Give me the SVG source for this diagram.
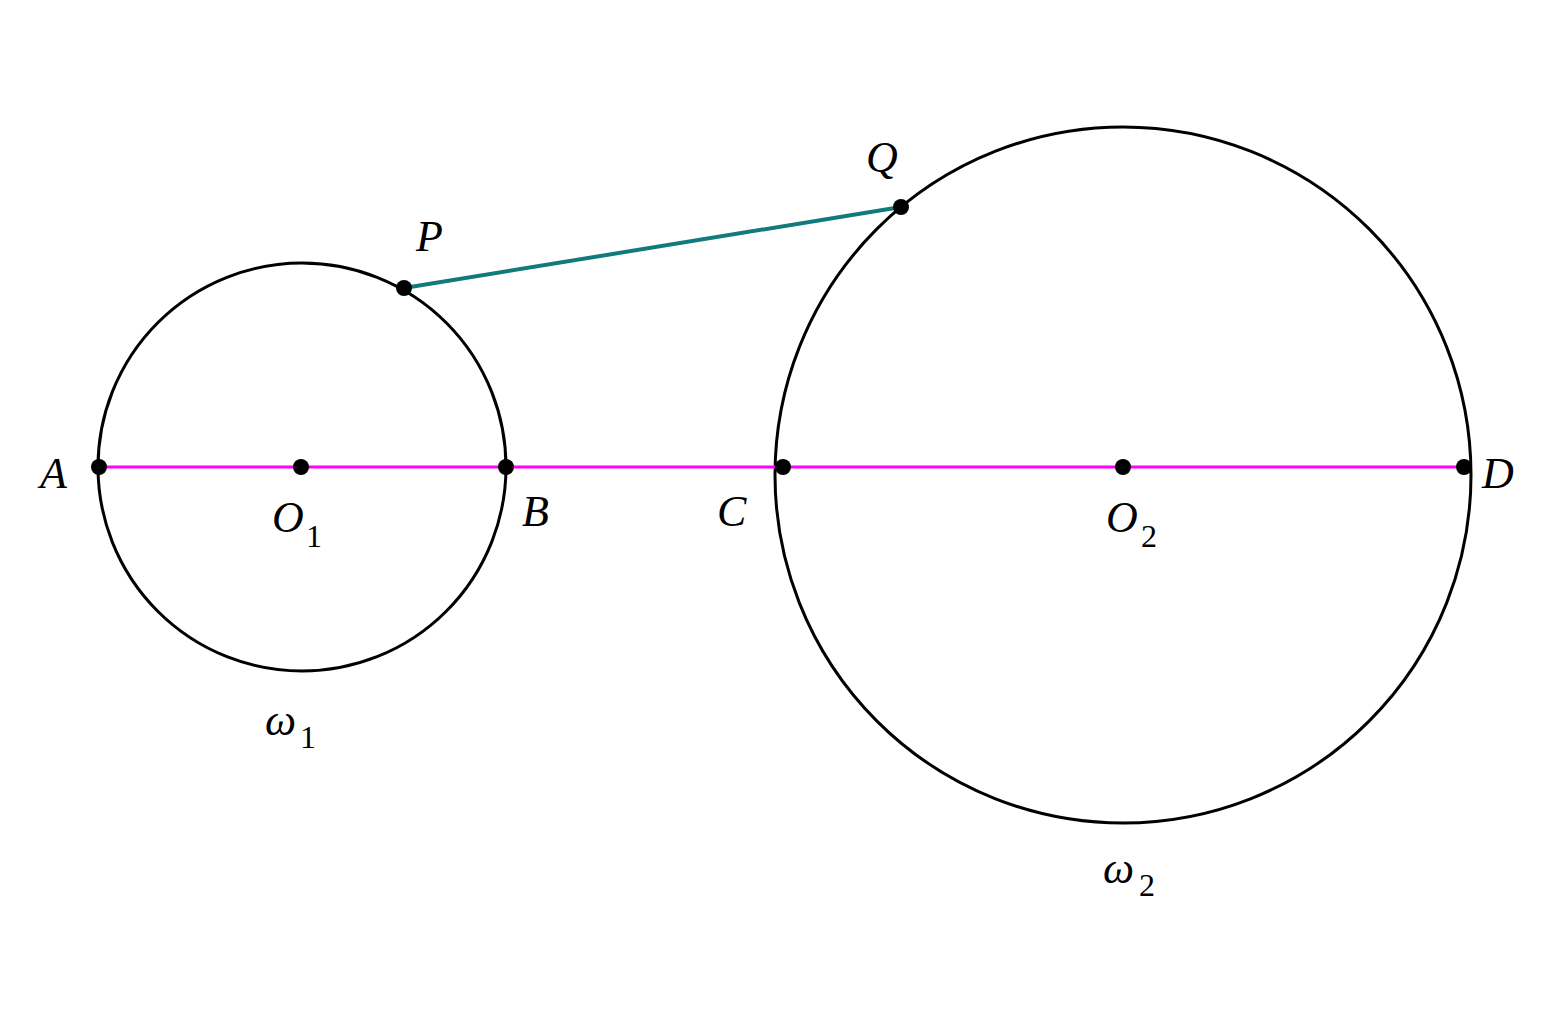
<svg xmlns="http://www.w3.org/2000/svg" width="1551" height="1014" viewBox="0 0 1551 1014">
<style>
.c{fill:none;stroke:#000;stroke-width:3}
.p{fill:#000}
.t{font-family:"Liberation Serif",serif;font-style:italic;font-size:44px;fill:#000}
.s{font-family:"Liberation Serif",serif;font-size:32px;fill:#000}
</style>
<rect width="1551" height="1014" fill="#fff"/>
<g id="w1"><circle class="c" cx="302" cy="467" r="204"/></g>
<g id="w2"><circle class="c" cx="1123" cy="475" r="348"/></g>
<g id="connectors">
<line x1="99" y1="467" x2="1464" y2="467" stroke="#ff00ff" stroke-width="3"/>
<line x1="404" y1="288" x2="901" y2="207" stroke="#117a7a" stroke-width="4"/>
</g>
<g id="points">
<circle class="p" cx="99" cy="467" r="8"/>
<circle class="p" cx="301" cy="467" r="8"/>
<circle class="p" cx="506" cy="467" r="8"/>
<circle class="p" cx="783" cy="467" r="8"/>
<circle class="p" cx="1123" cy="467" r="8"/>
<circle class="p" cx="1464" cy="467" r="8"/>
<circle class="p" cx="404" cy="288" r="8"/>
<circle class="p" cx="901" cy="207" r="8"/>
</g>
<g id="labels">
<text class="t" x="40" y="488">A</text>
<text class="t" x="522" y="526">B</text>
<text class="t" x="717" y="526">C</text>
<text class="t" x="1482" y="488">D</text>
<text class="t" x="416" y="251">P</text>
<text class="t" x="866" y="172">Q</text>
<text class="t" x="272" y="532">O</text><text class="s" x="306" y="547">1</text>
<text class="t" x="1106" y="532">O</text><text class="s" x="1141" y="547">2</text>
<text class="t" x="265" y="735">ω</text><text class="s" x="300" y="748">1</text>
<text class="t" x="1103" y="883">ω</text><text class="s" x="1139" y="896">2</text>
</g>
</svg>
